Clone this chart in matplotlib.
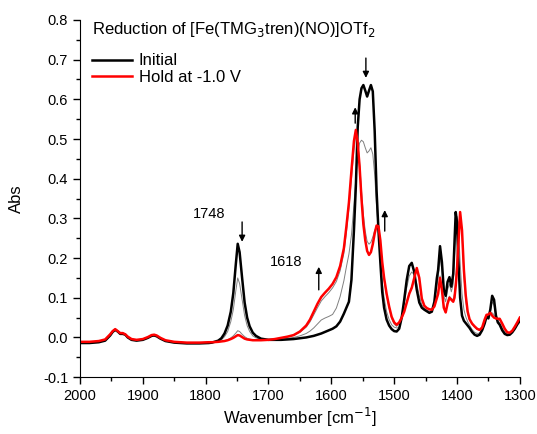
import numpy as np
from matplotlib import pyplot as plt
from matplotlib.ticker import MultipleLocator

plt.rcParams['font.family'] = ['Liberation Sans', 'DejaVu Sans']

# wavenumber grid [cm-1]
wn = [2000, 1985, 1970, 1960, 1952, 1948, 1944, 1940, 1936, 1932, 1928, 1924, 1918, 1910, 1900, 1892, 1886, 1882, 1878, 1872, 1864, 1850, 1830, 1810, 1795,
      1790, 1780, 1775, 1770, 1765, 1760, 1756, 1752, 1749, 1746, 1742, 1738, 1734, 1730, 1725, 1720, 1712, 1700,
      1690, 1680, 1670, 1660, 1650, 1640, 1634, 1628, 1622, 1616, 1610, 1604, 1598, 1592, 1586, 1580, 1576, 1572, 1568, 1564, 1561,
      1558, 1555, 1552, 1549, 1546, 1543, 1540, 1537, 1534, 1531, 1528, 1525, 1522, 1519, 1516, 1512, 1508, 1504, 1500, 1496,
      1492, 1488, 1484, 1480, 1476, 1472, 1468, 1464, 1460, 1456, 1452, 1448, 1444, 1440, 1436, 1432,
      1430, 1427, 1424, 1421, 1418, 1415, 1412, 1409, 1406, 1404, 1402, 1400, 1398, 1395, 1392, 1389, 1386, 1383, 1380, 1376, 1372, 1368, 1364, 1360,
      1356, 1353, 1350, 1347, 1344, 1341, 1338, 1335, 1332, 1328, 1324, 1320, 1316, 1312, 1308, 1304, 1300]

initial = [-0.014, -0.014, -0.012, -0.008, 0.005, 0.014, 0.019, 0.015, 0.009, 0.009, 0.007, 0.000, -0.006, -0.008, -0.006, -0.001, 0.004, 0.005, 0.003, -0.003, -0.009, -0.013, -0.015, -0.015, -0.014,
           -0.013, -0.008, -0.002, 0.010, 0.030, 0.065, 0.112, 0.185, 0.236, 0.215, 0.150, 0.088, 0.050, 0.028, 0.012, 0.004, -0.003, -0.006,
           -0.006, -0.006, -0.005, -0.004, -0.002, 0.000, 0.002, 0.004, 0.007, 0.010, 0.014, 0.018, 0.022, 0.028, 0.040, 0.060, 0.075, 0.090, 0.145, 0.270, 0.380,
           0.530, 0.600, 0.628, 0.636, 0.622, 0.607, 0.622, 0.636, 0.620, 0.520, 0.370, 0.270, 0.190, 0.115, 0.075, 0.045, 0.030, 0.021, 0.016, 0.015,
           0.022, 0.050, 0.095, 0.145, 0.180, 0.188, 0.165, 0.120, 0.088, 0.075, 0.070, 0.066, 0.062, 0.065, 0.090, 0.150,
           0.170, 0.230, 0.190, 0.120, 0.105, 0.140, 0.152, 0.128, 0.160, 0.240, 0.316, 0.290, 0.200, 0.100, 0.055, 0.042, 0.036, 0.030, 0.024, 0.014, 0.007, 0.004, 0.007, 0.018,
           0.035, 0.052, 0.048, 0.070, 0.105, 0.095, 0.055, 0.038, 0.032, 0.018, 0.009, 0.006, 0.007, 0.013, 0.022, 0.033, 0.042]

step1 = [-0.013, -0.013, -0.011, -0.007, 0.006, 0.015, 0.020, 0.015, 0.010, 0.010, 0.007, 0.001, -0.005, -0.007, -0.005, 0.000, 0.005, 0.006, 0.004, -0.002, -0.008, -0.012, -0.014, -0.014, -0.013,
         -0.013, -0.010, -0.006, 0.002, 0.015, 0.040, 0.070, 0.118, 0.150, 0.136, 0.095, 0.055, 0.030, 0.015, 0.004, -0.001, -0.005, -0.006,
         -0.005, -0.004, -0.002, 0.000, 0.004, 0.010, 0.016, 0.024, 0.034, 0.044, 0.049, 0.053, 0.058, 0.074, 0.103, 0.143, 0.178, 0.210, 0.258, 0.335, 0.400,
         0.460, 0.490, 0.497, 0.493, 0.478, 0.465, 0.470, 0.478, 0.462, 0.410, 0.330, 0.270, 0.205, 0.140, 0.100, 0.065, 0.045, 0.032, 0.026, 0.024,
         0.025, 0.048, 0.085, 0.125, 0.155, 0.165, 0.158, 0.135, 0.105, 0.082, 0.074, 0.069, 0.066, 0.067, 0.086, 0.130,
         0.150, 0.200, 0.170, 0.105, 0.090, 0.120, 0.135, 0.115, 0.135, 0.200, 0.270, 0.305, 0.290, 0.190, 0.110, 0.070, 0.052, 0.040, 0.031, 0.020, 0.013, 0.010, 0.011, 0.020,
         0.038, 0.054, 0.052, 0.066, 0.090, 0.082, 0.052, 0.041, 0.037, 0.024, 0.014, 0.009, 0.009, 0.015, 0.024, 0.035, 0.045]

step2 = [-0.012, -0.012, -0.010, -0.006, 0.007, 0.015, 0.020, 0.016, 0.010, 0.010, 0.008, 0.001, -0.005, -0.007, -0.005, 0.000, 0.005, 0.006, 0.004, -0.002, -0.008, -0.012, -0.014, -0.014, -0.013,
         -0.012, -0.011, -0.010, -0.008, -0.006, -0.001, 0.004, 0.011, 0.017, 0.015, 0.008, 0.002, -0.002, -0.004, -0.006, -0.006, -0.007, -0.006,
         -0.004, -0.002, 0.001, 0.005, 0.013, 0.026, 0.039, 0.057, 0.075, 0.092, 0.103, 0.113, 0.125, 0.141, 0.168, 0.212, 0.265, 0.325, 0.400, 0.472, 0.508,
         0.490, 0.440, 0.370, 0.310, 0.268, 0.242, 0.235, 0.240, 0.253, 0.270, 0.280, 0.272, 0.238, 0.185, 0.145, 0.105, 0.074, 0.048, 0.034, 0.028,
         0.036, 0.050, 0.068, 0.090, 0.113, 0.128, 0.150, 0.170, 0.145, 0.097, 0.080, 0.074, 0.071, 0.070, 0.080, 0.105,
         0.115, 0.155, 0.125, 0.080, 0.067, 0.090, 0.104, 0.098, 0.095, 0.110, 0.145, 0.200, 0.270, 0.310, 0.260, 0.155, 0.092, 0.060, 0.044, 0.033, 0.026, 0.020, 0.018, 0.024,
         0.043, 0.056, 0.056, 0.063, 0.062, 0.057, 0.049, 0.045, 0.044, 0.032, 0.020, 0.012, 0.011, 0.016, 0.026, 0.037, 0.048]

hold = [-0.011, -0.011, -0.009, -0.005, 0.008, 0.016, 0.021, 0.016, 0.011, 0.011, 0.008, 0.002, -0.004, -0.006, -0.004, 0.001, 0.006, 0.007, 0.005, -0.001, -0.007, -0.011, -0.013, -0.013, -0.012,
        -0.012, -0.011, -0.010, -0.009, -0.007, -0.004, -0.001, 0.003, 0.006, 0.005, 0.001, -0.003, -0.005, -0.006, -0.007, -0.007, -0.007, -0.006,
        -0.004, -0.001, 0.002, 0.006, 0.015, 0.030, 0.045, 0.065, 0.085, 0.102, 0.113, 0.123, 0.135, 0.152, 0.180, 0.225, 0.280, 0.340, 0.420, 0.495, 0.523,
        0.490, 0.430, 0.350, 0.285, 0.245, 0.218, 0.208, 0.215, 0.235, 0.262, 0.282, 0.280, 0.245, 0.190, 0.150, 0.110, 0.078, 0.052, 0.038, 0.032,
        0.038, 0.050, 0.065, 0.087, 0.110, 0.125, 0.150, 0.175, 0.150, 0.098, 0.080, 0.074, 0.071, 0.070, 0.078, 0.100,
        0.110, 0.150, 0.120, 0.075, 0.063, 0.085, 0.100, 0.095, 0.090, 0.100, 0.130, 0.170, 0.230, 0.316, 0.270, 0.170, 0.105, 0.065, 0.046, 0.035, 0.028, 0.022, 0.019, 0.025,
        0.045, 0.057, 0.058, 0.062, 0.055, 0.050, 0.048, 0.047, 0.047, 0.035, 0.022, 0.013, 0.012, 0.017, 0.027, 0.038, 0.050]

# peak labels and arrows (x, y_tail, y_head)
labels = [("1748", 1795, 0.311), ("1618", 1672, 0.19)]
arrows = [(1742, 0.291, 0.241), (1620, 0.12, 0.178), (1545, 0.704, 0.654), (1562, 0.54, 0.58), (1515, 0.268, 0.321)]

fig = plt.figure(figsize=(5.37, 4.34), dpi=100)
ax = fig.add_axes([0.149, 0.131, 0.819, 0.823])

ax.plot(wn, step1, color="#808080", lw=0.7)
ax.plot(wn, step2, color="#808080", lw=0.7)
l1, = ax.plot(wn, initial, color="black", lw=1.8, label="Initial")
l2, = ax.plot(wn, hold, color="#ff0000", lw=1.8, label="Hold at -1.0 V")

for txt, x, y in labels:
    ax.text(x, y, txt, fontsize=10.5, ha="center", va="center")
for x, y0, y1 in arrows:
    ax.annotate("", xy=(x, y1), xytext=(x, y0),
                arrowprops=dict(arrowstyle="-|>", color="black", lw=1, mutation_scale=9, shrinkA=0, shrinkB=0))

ax.set_xlim(2000, 1300)
ax.set_ylim(-0.1, 0.8)
ax.xaxis.set_major_locator(MultipleLocator(100))
ax.xaxis.set_minor_locator(MultipleLocator(50))
ax.yaxis.set_major_locator(MultipleLocator(0.1))
ax.yaxis.set_minor_locator(MultipleLocator(0.05))
ax.tick_params(which="major", direction="out", length=5, width=1, labelsize=10.5)
ax.tick_params(which="minor", direction="out", length=3, width=1)
ax.yaxis.set_major_formatter(plt.FuncFormatter(lambda v, p: f"{v:.1f}"))
ax.spines["top"].set_visible(False)
ax.spines["right"].set_visible(False)
ax.set_xlabel("Wavenumber [cm$^{-1}$]", fontsize=12, labelpad=2)
ax.set_ylabel("Abs", fontsize=12, labelpad=14)

# legend title drawn as text, entries as legend below it
ax.text(0.027, 0.972, "Reduction of [Fe(TMG$_3$tren)(NO)]OTf$_2$", transform=ax.transAxes,
        fontsize=12, ha="left", va="center")
leg = ax.legend(handles=[l1, l2], loc="upper left", bbox_to_anchor=(0.012, 0.925),
                frameon=False, fontsize=12, handlelength=2.4, borderaxespad=0,
                labelspacing=0.1, handletextpad=0.4)

plt.savefig("out.png", dpi=100)
